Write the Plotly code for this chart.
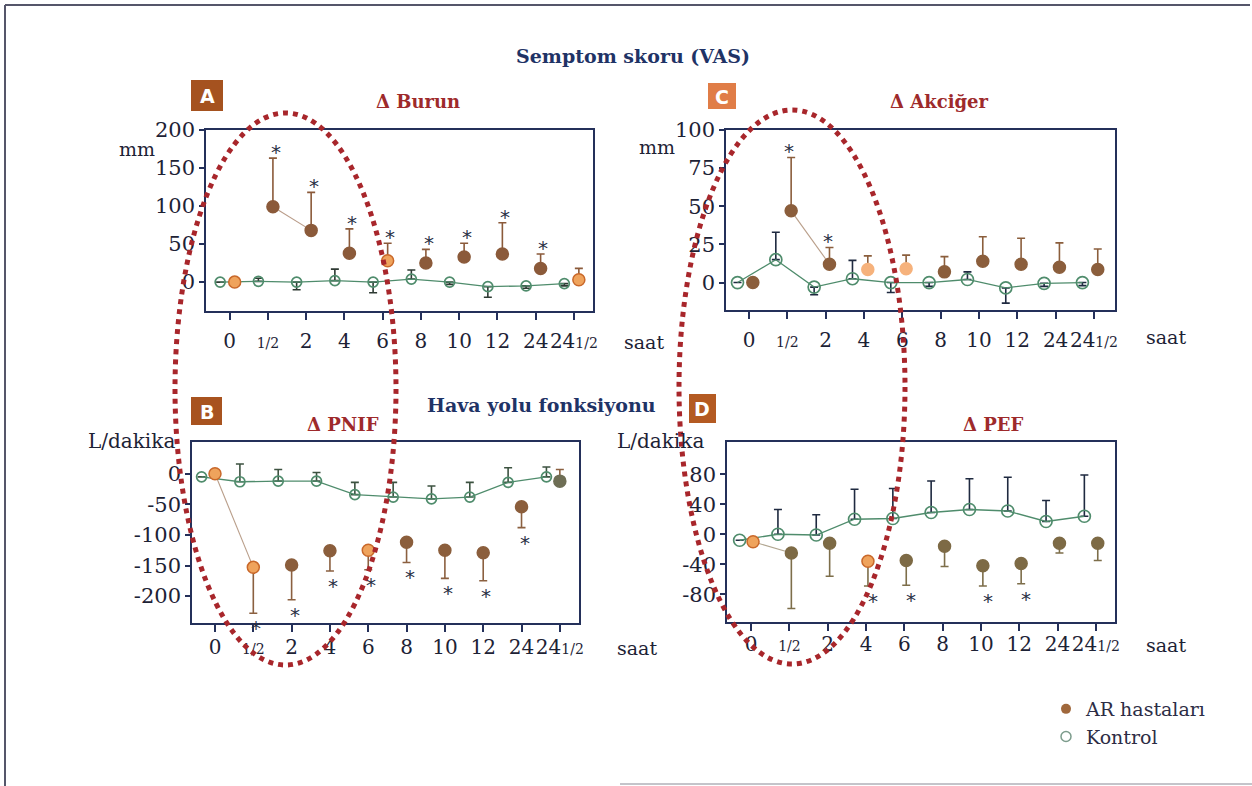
import plotly.graph_objects as go

W, H = 1252, 786

# Time points (hours after challenge)
time_labels = ["0", "1/2", "2", "4", "6", "8", "10", "12", "24", "24 1/2"]

# A - Δ Burun (VAS, mm)
burun_ar = [0, 99, 68, 38, 28, 25, 33, 37, 18, 3]
burun_ar_err = [0, 64, 50, 32, 23, 18, 18, 41, 19, 15]
burun_k = [0, 1, 0, 2, 0, 4, 0, -6, -5, -2]
burun_k_err = [0, 4, -10, 15, -14, 12, -3, -14, -3, -3]
burun_sig = [1, 2, 3, 4, 5, 6, 7, 8]

# C - Δ Akciğer (VAS, mm)
akciger_ar = [0, 47, 12, 8.5, 9, 7, 14, 12, 10, 8.5]
akciger_ar_err = [0, 35, 11, 9, 9, 10, 16, 17, 16, 13.5]
akciger_k = [0, 15, -3, 2.5, 0, 0, 2, -3.5, -0.5, 0]
akciger_k_err = [0, 18, -5, 12, -6.5, -2.5, 5, -10, -2, -2]
akciger_sig = [1, 2]

# B - Δ PNIF (L/dakika)
pnif_ar = [0, -153, -149, -126, -125, -112, -125, -129, -54, -12]
pnif_ar_err = [0, -75, -57, -33, -32, -33, -46, -46, -34, 19]
pnif_k = [-5, -13, -12, -12, -34, -38, -41, -38, -14, -5]
pnif_k_err = [0, 29, 19, 14, 20, 24, 21, 24, 24, 16]
pnif_sig = [1, 2, 3, 4, 5, 6, 7, 8]

# D - Δ PEF (L/dakika)
pef_ar = [-10, -25, -12, -36, -35, -16, -42, -39, -12, -12]
pef_ar_err = [0, -74, -44, -33, -33, -27, -27, -27, -13, -23]
pef_k = [-8, 0, -1, 20, 21, 29, 33, 31, 17, 24]
pef_k_err = [0, 33, 27, 40, 40, 42, 41, 45, 28, 55]
pef_sig = [3, 4, 6, 7]

SERIF = "DejaVu Serif"
NAVY = "#24305a"
TITLE_RED = "#9e2a2b"
GREEN = "#4f8c6c"
ORANGE_FILL = "#efa35c"
ORANGE_LINE = "#c9682a"
INK = "#1d2235"
STAR = "#2b2f45"


def px(x):
    return x / W


def py(y):
    return 1 - y / H


def tick_label(t):
    if t == "1/2":
        return "<span style='font-size:14px'>1/2</span>"
    if t == "24 1/2":
        return "24<span style='font-size:14px'>1/2</span>"
    return t


panels = [
    dict(key="", box=(206, 593, 130, 311), xr=[-0.62, 9.5], yr=[-38, 200],
         yt=[0, 50, 100, 150, 200], ar=burun_ar, ar_err=burun_ar_err,
         k=burun_k, k_err=burun_k_err, sig=burun_sig, sig_dir=1,
         ar_off=0.13, k_off=-0.25, sig_off=0.2, ar_col="#8b5a3a",
         ar_err_col="#8b5a3a", k_err_col="#2e3a33", k_size=10,
         hl={0: "o", 4: "o", 9: "o"}, seg=(1, 3), label_pad=4),
    dict(key="2", box=(726, 1115, 130, 310), xr=[-0.6, 9.55], yr=[-18, 100],
         yt=[0, 25, 50, 75, 100], ar=akciger_ar, ar_err=akciger_ar_err,
         k=akciger_k, k_err=akciger_k_err, sig=akciger_sig, sig_dir=1,
         ar_off=0.1, k_off=-0.3, sig_off=0.05, ar_col="#8b5e3c",
         ar_err_col="#8b5e3c", k_err_col="#1f2a40", k_size=12,
         hl={3: "p", 4: "p"}, seg=(1, 3), label_pad=4),
    dict(key="3", box=(192, 579, 442, 623), xr=[-0.6, 9.5], yr=[-244, 52],
         yt=[0, -50, -100, -150, -200], ar=pnif_ar, ar_err=pnif_ar_err,
         k=pnif_k, k_err=pnif_k_err, sig=pnif_sig, sig_dir=-1,
         ar_off=0.0, k_off=-0.35, sig_off=0.08, ar_col="#8b5e3c",
         ar_err_col="#8b6040", k_err_col="#3c5240", k_size=10,
         hl={0: "o", 1: "o", 4: "o", 9: "g"}, seg=(0, 2), label_pad=-2),
    dict(key="4", box=(727, 1115, 442, 622), xr=[-0.63, 9.5], yr=[-117, 123],
         yt=[-80, -40, 0, 40, 80], ar=pef_ar, ar_err=pef_ar_err,
         k=pef_k, k_err=pef_k_err, sig=pef_sig, sig_dir=-1,
         ar_off=0.05, k_off=-0.3, sig_off=0.18, ar_col="#7d6a45",
         ar_err_col="#7d6e4a", k_err_col="#1f2a40", k_size=12,
         hl={0: "o", 3: "o"}, seg=(0, 2), label_pad=-4),
]

fig = go.Figure()
annotations = []

for p in panels:
    xa, ya = "x" + p["key"], "y" + p["key"]
    n = len(time_labels)
    ar_x = [i + p["ar_off"] for i in range(n)]
    k_x = [i + p["k_off"] for i in range(n)]

    fills, lines = [], []
    for i in range(n):
        kind = p["hl"].get(i)
        if kind == "o":
            fills.append(ORANGE_FILL); lines.append(ORANGE_LINE)
        elif kind == "p":
            fills.append("#f6b27c"); lines.append("#f6b27c")
        elif kind == "g":
            fills.append("#6e6e55"); lines.append("#6e6e55")
        else:
            fills.append(p["ar_col"]); lines.append(p["ar_col"])

    # control group: connecting line, open circles, one-sided SD bars
    fig.add_trace(go.Scatter(
        x=k_x, y=p["k"], xaxis=xa, yaxis=ya, mode="lines+markers",
        line=dict(color=GREEN, width=1.3),
        marker=dict(symbol="circle-open", size=p["k_size"], color=GREEN,
                    line=dict(width=1.7)),
        error_y=dict(type="data", symmetric=False,
                     array=[max(e, 0) for e in p["k_err"]],
                     arrayminus=[max(-e, 0) for e in p["k_err"]],
                     color=p["k_err_col"], thickness=1.6, width=4),
        showlegend=False, hoverinfo="skip"))

    # short connecting segment between early patient points
    a, b = p["seg"]
    fig.add_trace(go.Scatter(
        x=ar_x[a:b], y=p["ar"][a:b], xaxis=xa, yaxis=ya, mode="lines",
        line=dict(color=p["ar_col"], width=1.1), opacity=0.6,
        showlegend=False, hoverinfo="skip"))

    # AR patients: filled circles with one-sided SD bars
    fig.add_trace(go.Scatter(
        x=ar_x, y=p["ar"], xaxis=xa, yaxis=ya, mode="markers",
        marker=dict(symbol="circle", size=12, color=fills,
                    line=dict(color=lines, width=1.5)),
        error_y=dict(type="data", symmetric=False,
                     array=[max(e, 0) for e in p["ar_err"]],
                     arrayminus=[max(-e, 0) for e in p["ar_err"]],
                     color=p["ar_err_col"], thickness=1.6, width=4),
        showlegend=False, hoverinfo="skip"))

    # significance stars beyond the end of the SD bar
    for i in p["sig"]:
        annotations.append(dict(
            x=i + p["sig_off"], y=p["ar"][i] + p["ar_err"][i], xref=xa, yref=ya,
            text="*", showarrow=False,
            font=dict(family="DejaVu Sans", size=20, color=STAR),
            yshift=6 if p["sig_dir"] > 0 else -15))

    x0, x1, y0, y1 = p["box"]
    fig.layout["xaxis" + p["key"]] = dict(
        domain=[px(x0), px(x1)], range=p["xr"], anchor=ya, automargin=False,
        tickmode="array", tickvals=list(range(n)), tickangle=0,
        ticktext=[tick_label(t) for t in time_labels],
        ticks="outside", ticklen=7, tickwidth=1.5, tickcolor=NAVY,
        ticklabelstandoff=p["label_pad"],
        showline=True, linecolor=NAVY, linewidth=1.5, mirror=True,
        showgrid=False, zeroline=False,
        tickfont=dict(family=SERIF, size=20, color=INK))
    fig.layout["yaxis" + p["key"]] = dict(
        domain=[py(y1), py(y0)], range=p["yr"], anchor=xa, automargin=False,
        tickmode="array", tickvals=p["yt"], ticktext=[str(v) for v in p["yt"]],
        ticks="outside", ticklen=5, tickwidth=1.5, tickcolor=NAVY,
        showline=True, linecolor=NAVY, linewidth=1.5, mirror=True,
        showgrid=False, zeroline=False,
        tickfont=dict(family=SERIF, size=21, color=INK))

# legend entries
fig.add_trace(go.Scatter(x=[None], y=[None], mode="markers", name="AR hastaları",
                         marker=dict(symbol="circle", size=10, color="#a0683c")))
fig.add_trace(go.Scatter(x=[None], y=[None], mode="markers", name="Kontrol",
                         marker=dict(symbol="circle-open", size=10, color="#7c9c8c",
                                     line=dict(width=1.5))))


def text(x, y, s, size, color, bold=False, xanchor="center", family=SERIF):
    annotations.append(dict(
        x=px(x), y=py(y), xref="paper", yref="paper", showarrow=False,
        text=f"<b>{s}</b>" if bold else s, xanchor=xanchor, yanchor="middle",
        font=dict(family=family, size=size, color=color)))


text(633, 56, "Semptom skoru (VAS)", 19, "#1f3366", bold=True)
text(541, 405, "Hava yolu fonksiyonu", 19, "#1f3366", bold=True)
text(418, 101, "Δ Burun", 18, TITLE_RED, bold=True)
text(939, 101, "Δ Akciğer", 18, TITLE_RED, bold=True)
text(343, 424, "Δ PNIF", 18, TITLE_RED, bold=True)
text(993, 424, "Δ PEF", 18, TITLE_RED, bold=True)
text(157, 149, "mm", 19, INK, xanchor="right")
text(677, 147, "mm", 19, INK, xanchor="right")
text(131, 441, "L/dakika", 20, INK)
text(660, 441, "L/dakika", 20, INK)
text(644, 342, "saat", 19, INK)
text(1166, 337, "saat", 19, INK)
text(637, 648, "saat", 19, INK)
text(1166, 645, "saat", 19, INK)

shapes = []
# panel letter badges
for letter, (bx0, by0, bx1, by1), col in [
        ("A", (191, 80, 223, 111), "#a5521f"),
        ("C", (708, 83, 736, 109), "#e07d47"),
        ("B", (191, 397, 222, 425), "#a8531f"),
        ("D", (689, 394, 716, 423), "#b45a22")]:
    shapes.append(dict(type="rect", xref="paper", yref="paper",
                       x0=px(bx0), x1=px(bx1), y0=py(by1), y1=py(by0),
                       fillcolor=col, line=dict(width=0), layer="above"))
    text((bx0 + bx1) / 2, (by0 + by1) / 2 + 1, letter, 19, "white", bold=True,
         family="DejaVu Sans")

# dotted emphasis ellipses around the early response
for (ex0, ey0, ex1, ey1) in [(175, 113, 396, 665), (679, 110, 905, 664)]:
    shapes.append(dict(type="circle", xref="paper", yref="paper",
                       x0=px(ex0), x1=px(ex1), y0=py(ey1), y1=py(ey0),
                       line=dict(color="#a8262b", width=5, dash="5px,5px"),
                       layer="above"))

# outer frame
shapes.append(dict(type="line", xref="paper", yref="paper",
                   x0=px(5), x1=px(1250), y0=py(5), y1=py(5),
                   line=dict(color="#55566a", width=2)))
shapes.append(dict(type="line", xref="paper", yref="paper",
                   x0=px(5), x1=px(5), y0=py(5), y1=py(786),
                   line=dict(color="#55566a", width=2)))
shapes.append(dict(type="line", xref="paper", yref="paper",
                   x0=px(620), x1=px(1252), y0=py(784), y1=py(784),
                   line=dict(color="#b0b0b8", width=1.5)))

fig.update_layout(
    width=W, height=H, margin=dict(l=0, r=0, t=0, b=0, autoexpand=False),
    paper_bgcolor="white", plot_bgcolor="white",
    annotations=annotations, shapes=shapes,
    showlegend=True,
    legend=dict(x=px(1046), y=py(690), xanchor="left", yanchor="top",
                font=dict(family=SERIF, size=19, color="#2d2d45"),
                bgcolor="rgba(0,0,0,0)", itemwidth=30, tracegroupgap=4),
)

fig.write_html("out.html")
